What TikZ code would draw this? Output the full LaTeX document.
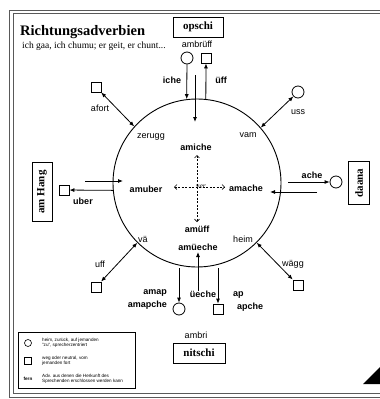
\documentclass[tikz,border=0pt]{standalone}
\usepackage{fontspec}
\setmainfont{Liberation Serif}
\setsansfont{Liberation Sans}
\usetikzlibrary{arrows.meta}
\begin{document}
\begin{tikzpicture}[x=1pt,y=-1pt,
  lab/.style={font=\sffamily\fontsize{9}{10}\selectfont, inner sep=0pt},
  blab/.style={font=\sffamily\bfseries\fontsize{9}{10}\selectfont, inner sep=0pt},
  tbox/.style={draw, line width=0.9pt, font=\bfseries\fontsize{11}{12}\selectfont, inner sep=0pt},
  ring/.style={circle, draw, line width=0.8pt, minimum size=12pt, inner sep=0pt},
  sqr/.style={rectangle, draw, line width=0.8pt, minimum size=10pt, inner sep=0pt},
  arr/.style={line width=0.8pt, -{Latex[length=5pt,width=4pt]}},
  darr/.style={line width=0.8pt, {Latex[length=5pt,width=4pt]}-{Latex[length=5pt,width=4pt]}},
  dsh/.style={line width=0.6pt, dashed, dash pattern=on 2pt off 1.5pt, {Straight Barb[length=2.5pt]}-{Straight Barb[length=2.5pt]}},
  leg/.style={font=\sffamily\fontsize{4.6}{5.4}\selectfont, inner sep=0pt, align=left, anchor=west},
]
\useasboundingbox (0,0) rectangle (380,399);
\clip (0,0) rectangle (380,399);
% frame
\draw[black!65, line width=0.8pt] (9,10) rectangle (420,397);
\draw[black!65, line width=0.8pt] (13,13) rectangle (416,393);
% title
\node[anchor=west, inner sep=0pt, font=\bfseries\fontsize{14.5}{16}\selectfont] (title) at (20,32) {Richtungsadverbien};
\node[anchor=west, inner sep=0pt, font=\fontsize{9.5}{11}\selectfont] (sub) at (22,46) {ich gaa, ich chumu; er geit, er chunt...};
% big circle
\node[circle, draw, line width=0.9pt, minimum size=168pt, inner sep=0pt] (C) at (197,183) {};
% boxes
\node[tbox, minimum width=50pt, minimum height=20pt] (op) at (198,27) {opschi};
\node[tbox, minimum width=52pt, minimum height=20pt] (ni) at (199,353) {nitschi};
\node[tbox, rotate=90, minimum width=59pt, minimum height=20pt] (hang) at (42,192) {am Hang};
\node[tbox, rotate=90, minimum width=43pt, minimum height=21pt] (da) at (359,183) {daana};
\node[lab] (ambr) at (197,44) {ambrüff};
\node[lab] (ambri) at (196,335) {ambri};
% small markers
\node[ring] (o1) at (187,58) {};
\node[sqr] (s1) at (206,58) {};
\node[sqr] (s2) at (96,87) {};
\node[ring] (o2) at (298,92) {};
\node[sqr] (s3) at (64,190) {};
\node[ring] (o3) at (336,182) {};
\node[sqr] (s4) at (96,287) {};
\node[sqr] (s5) at (298,285) {};
\node[ring] (o4) at (179,309) {};
\node[sqr] (s6) at (218,309) {};
% top arrows
\draw[arr] (o1) -- (C.97);
\coordinate (t1) at (195,75);
\coordinate (t2) at (195,122);
\draw[arr] (t1) -- (t2);
\draw[arr] (C.84) -- (s1);
\node[blab] (iche) at (172,80) {iche};
\node[blab] (uff1) at (221,80) {üff};
% diagonal arrows
\draw[darr] (s2) -- (C.138);
\node[lab] (afort) at (100,108) {afort};
\draw[darr] (o2) -- (C.41);
\node[lab] (uss) at (298,112) {uss};
\draw[darr] (s4) -- (C.225);
\node[lab] (uff) at (100,264) {uff};
\draw[darr] (s5) -- (C.-45);
\node[lab] (wagg) at (293,264) {wägg};
% left arrows
\coordinate (l1) at (85,181);
\coordinate (l2) at (123,181);
\draw[arr] (l1) -- (l2);
\draw[arr] (C.185) -- (s3);
\node[blab] (uber) at (83,201) {uber};
% right arrows
\coordinate (r1) at (288,182);
\draw[arr] (r1) -- (o3);
\coordinate (r2) at (317,192);
\coordinate (r3) at (270,192);
\draw[arr] (r2) -- (r3);
\node[blab] (ache) at (312,175) {ache};
% bottom arrows
\coordinate (b1) at (179,268);
\draw[arr] (b1) -- (o4);
\coordinate (b2) at (198,291);
\coordinate (b3) at (198,252);
\draw[arr] (b2) -- (b3);
\coordinate (b4) at (218,268);
\draw[arr] (b4) -- (s6);
\node[blab, anchor=east] (amap) at (167,293) {amap};
\node[blab, anchor=east] (amapche) at (167,305) {amapche};
\node[blab] (ueche) at (203,294) {üeche};
\node[blab, anchor=west] (ap) at (233,295) {ap};
\node[blab, anchor=west] (apche) at (237,307) {apche};
% inner labels
\node[lab] (zer) at (151,137) {zerugg};
\node[lab] (vam) at (248,135) {vam};
\node[lab] (va) at (143,239) {vä};
\node[lab] (heim) at (243,239) {heim};
\node[blab] (amiche) at (196,147) {amiche};
\node[blab] (amuber) at (146,189) {amuber};
\node[blab] (amache) at (246,188) {amache};
\node[blab] (amuff) at (197,229) {amüff};
\node[blab] (amueche) at (198,247) {amüeche};
% central cross
\coordinate (v1) at (197,155);
\coordinate (v2) at (197,222);
\coordinate (h1) at (174,187);
\coordinate (h2) at (225,187);
\draw[dsh] (v1) -- (v2);
\draw[dsh] (h1) -- (h2);
\node[inner sep=0.3pt, font=\itshape\fontsize{7.5}{8}\selectfont] (ver) at (201,187) {ver};
% legend
\node[draw, line width=0.6pt, minimum width=117pt, minimum height=56pt, inner sep=0pt, anchor=north west] (legbox) at (18,332) {};
\node[circle, draw, line width=0.6pt, minimum size=7pt, inner sep=0pt] (lo) at (28,343) {};
\node[leg] (lt1) at (42,343) {heim, zurück, auf jemanden\\"zu", sprecherzentriert};
\node[rectangle, draw, line width=0.6pt, minimum size=7pt, inner sep=0pt] (ls) at (28,361) {};
\node[leg] (lt2) at (42,361) {weg oder neutral, vom\\jemanden fort};
\node[inner sep=0pt, font=\sffamily\bfseries\fontsize{4.6}{5.4}\selectfont] (lf) at (28,379) {fern};
\node[leg] (lt3) at (42,379) {Adv. aus denen die Herkunft des\\Sprechenden erschlossen werden kann};
% corner triangle
\fill (363,384) -- (380,367) -- (380,384) -- cycle;
\end{tikzpicture}
\end{document}
